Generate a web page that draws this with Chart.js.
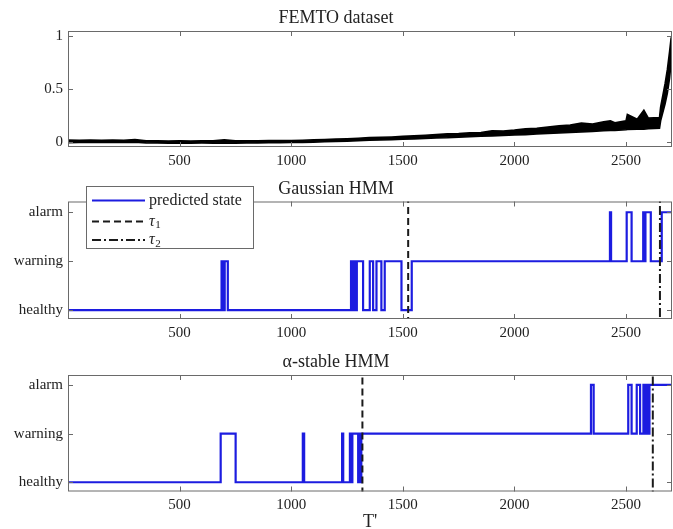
<!DOCTYPE html>
<html>
<head>
<meta charset="utf-8">
<script src="https://cdn.jsdelivr.net/npm/chart.js@4.4.0/dist/chart.umd.min.js"></script>
<style>
html, body { margin: 0; padding: 0; background: #fff; width: 673px; height: 529px; overflow: hidden; }
canvas { position: absolute; left: 0; }
</style>
</head>
<body>
<canvas id="femto" width="673" height="175" style="top:0px"></canvas>
<canvas id="gauss" width="673" height="175" style="top:165px"></canvas>
<canvas id="alpha" width="673" height="193" style="top:340px"></canvas>
<script>
// x axis
var xMax = 2706;
var ticksX = [500, 1000, 1500, 2000, 2500];
var stateLabels = ['healthy', 'warning', 'alarm'];

// FEMTO signal, read as a lower / upper envelope of the noisy trace
var femtoT = [0, 50, 100, 150, 200, 250, 300, 350, 400, 450, 500, 550, 600, 650, 700, 750, 800, 850, 900, 950,
  1000, 1050, 1100, 1150, 1200, 1250, 1300, 1350, 1400, 1450, 1500, 1550, 1600, 1650, 1700, 1750, 1800, 1850, 1900, 1950,
  2000, 2050, 2100, 2150, 2200, 2250, 2300, 2350, 2400, 2430, 2450, 2500, 2506, 2550, 2580, 2600, 2650, 2655, 2665, 2675, 2685, 2695, 2702, 2706];
var femtoLow = [-0.006, -0.004, -0.003, -0.004, -0.003, -0.004, -0.002, -0.008, -0.009, -0.010, -0.010, -0.010, -0.009, -0.010, -0.008, -0.010, -0.009, -0.008, -0.007, -0.006,
  -0.005, -0.003, -0.001, 0.002, 0.005, 0.008, 0.012, 0.016, 0.019, 0.022, 0.026, 0.030, 0.034, 0.038, 0.040, 0.045, 0.049, 0.054, 0.058, 0.062,
  0.066, 0.070, 0.075, 0.080, 0.085, 0.090, 0.096, 0.100, 0.106, 0.108, 0.110, 0.115, 0.118, 0.120, 0.122, 0.125, 0.130, 0.200, 0.280, 0.360, 0.460, 0.600, 0.750, 0.800];
var femtoHigh = [0.018, 0.016, 0.018, 0.017, 0.018, 0.016, 0.024, 0.012, 0.011, 0.010, 0.011, 0.010, 0.011, 0.012, 0.022, 0.011, 0.012, 0.012, 0.013, 0.014,
  0.015, 0.017, 0.020, 0.023, 0.027, 0.031, 0.036, 0.042, 0.045, 0.048, 0.053, 0.058, 0.064, 0.070, 0.078, 0.079, 0.088, 0.090, 0.106, 0.104,
  0.112, 0.124, 0.130, 0.142, 0.152, 0.160, 0.178, 0.170, 0.190, 0.200, 0.182, 0.200, 0.260, 0.215, 0.300, 0.225, 0.230, 0.330, 0.440, 0.550, 0.680, 0.850, 0.980, 1.000];

// Gaussian HMM predicted state (change points)
var gaussT = [0, 688, 697, 702, 716, 1268, 1276, 1281, 1290, 1294, 1322, 1352, 1367, 1382, 1404, 1419, 1494, 1540,
  2428, 2433, 2503, 2525, 2577, 2583, 2587, 2611, 2660, 2706];
var gaussState = [0, 1, 0, 1, 0, 1, 0, 1, 0, 1, 0, 1, 0, 1, 0, 1, 0, 1,
  2, 1, 2, 1, 2, 1, 2, 1, 2, 2];
var gaussTau = [1524, 2652];

// alpha-stable HMM predicted state (change points)
var alphaT = [0, 684, 751, 1052, 1058, 1228, 1233, 1263, 1270, 1274, 1300, 1305, 1310, 1314,
  2343, 2355, 2510, 2525, 2548, 2563, 2578, 2585, 2590, 2596, 2605, 2706];
var alphaState = [0, 1, 0, 1, 0, 1, 0, 1, 0, 1, 0, 1, 0, 1,
  2, 1, 2, 1, 2, 1, 2, 1, 2, 1, 2, 2];
var alphaTau = [1319, 2620];

var legendLabels = ['predicted state', '\u03c4', '\u03c4'];
var legendSubs = ['', '1', '2'];

var serif = "'Liberation Serif', 'DejaVu Serif', serif";
var textColor = '#222';
var boxColor = '#6a6a6a';
var blue = '#1c1ce0';
var tau1Dash = [7, 4];
var tau2Dash = [9, 3, 2, 3];

function pts(xs, ys) {
  return xs.map(function (x, i) { return { x: x, y: ys[i] }; });
}

function tauLine(x, dash) {
  return {
    data: [{ x: x, y: -5 }, { x: x, y: 5 }],
    borderColor: '#1a1a1a', borderWidth: 2, borderDash: dash, pointRadius: 0
  };
}

var framePlugin = {
  id: 'frame',
  afterDatasetsDraw: function (chart) {
    var ctx = chart.ctx, a = chart.chartArea, sx = chart.scales.x, sy = chart.scales.y;
    ctx.save();
    ctx.strokeStyle = boxColor;
    ctx.lineWidth = 1;
    ctx.setLineDash([]);
    ctx.strokeRect(a.left + 0.5, a.top + 0.5, a.right - a.left - 1, a.bottom - a.top - 1);
    ctx.beginPath();
    sx.ticks.forEach(function (t) {
      var px = Math.round(sx.getPixelForValue(t.value)) + 0.5;
      ctx.moveTo(px, a.bottom); ctx.lineTo(px, a.bottom - 5);
      ctx.moveTo(px, a.top); ctx.lineTo(px, a.top + 5);
    });
    sy.ticks.forEach(function (t) {
      var py = Math.round(sy.getPixelForValue(t.value)) + 0.5;
      ctx.moveTo(a.left, py); ctx.lineTo(a.left + 5, py);
      ctx.moveTo(a.right, py); ctx.lineTo(a.right - 5, py);
    });
    ctx.stroke();
    ctx.restore();
  }
};

var legendPlugin = {
  id: 'stateLegend',
  afterDraw: function (chart) {
    var ctx = chart.ctx;
    var rows = [35.5, 56.5, 75];
    var styles = [
      { color: blue, dash: [] },
      { color: '#1a1a1a', dash: tau1Dash },
      { color: '#1a1a1a', dash: tau2Dash }
    ];
    ctx.save();
    ctx.fillStyle = '#fff';
    ctx.fillRect(86.5, 21.5, 167, 62);
    ctx.strokeStyle = boxColor;
    ctx.lineWidth = 1;
    ctx.strokeRect(86.5, 21.5, 167, 62);
    ctx.textBaseline = 'middle';
    legendLabels.forEach(function (lab, i) {
      ctx.beginPath();
      ctx.setLineDash(styles[i].dash);
      ctx.strokeStyle = styles[i].color;
      ctx.lineWidth = 2;
      ctx.moveTo(92, rows[i]);
      ctx.lineTo(145, rows[i]);
      ctx.stroke();
      ctx.fillStyle = textColor;
      if (legendSubs[i]) {
        ctx.font = 'italic 16px ' + serif;
        ctx.fillText(lab, 149, rows[i]);
        var w = ctx.measureText(lab).width;
        ctx.font = '11px ' + serif;
        ctx.fillText(legendSubs[i], 149 + w + 0.5, rows[i] + 4);
      } else {
        ctx.font = '16px ' + serif;
        ctx.fillText(lab, 149, rows[i]);
      }
    });
    ctx.restore();
  }
};

function xAxis(height, title) {
  return {
    type: 'linear', min: 0, max: xMax,
    afterBuildTicks: function (s) { s.ticks = ticksX.map(function (v) { return { value: v }; }); },
    afterFit: function (s) { s.height = height; },
    grid: { display: false, drawTicks: false },
    border: { display: false },
    ticks: { font: { family: serif, size: 15 }, color: textColor, padding: 5, maxRotation: 0, autoSkip: false,
      callback: function (v) { return String(v); } },
    title: title ? { display: true, text: title, font: { family: serif, size: 18 }, color: textColor, padding: { top: 0, bottom: 0 } } : { display: false }
  };
}

function yAxis(min, max, tickVals, labelFn) {
  return {
    type: 'linear', min: min, max: max,
    afterBuildTicks: function (s) { s.ticks = tickVals.map(function (v) { return { value: v }; }); },
    afterFit: function (s) { s.width = 68; },
    grid: { display: false, drawTicks: false },
    border: { display: false },
    ticks: { font: { family: serif, size: 15 }, color: textColor, padding: 5, autoSkip: false, callback: labelFn }
  };
}

function baseOptions(titleText, padTop, xa, ya) {
  return {
    responsive: false,
    animation: false,
    devicePixelRatio: 1,
    layout: { padding: { left: 0, right: 1, top: 0, bottom: 0 } },
    plugins: {
      legend: { display: false },
      tooltip: { enabled: false },
      title: { display: true, text: titleText, font: { family: serif, size: 18, weight: 'normal' }, color: textColor, padding: { top: padTop, bottom: 1.7 } }
    },
    scales: { x: xa, y: ya }
  };
}

new Chart(document.getElementById('femto'), {
  type: 'line',
  data: {
    datasets: [
      { data: pts(femtoT, femtoHigh), borderColor: '#000', backgroundColor: '#000', borderWidth: 1.6, pointRadius: 0, fill: '+1' },
      { data: pts(femtoT, femtoLow), borderColor: '#000', borderWidth: 1.6, pointRadius: 0, fill: false }
    ]
  },
  options: baseOptions('FEMTO dataset', 7.7, xAxis(28), yAxis(-0.047, 1.047, [0, 0.5, 1], function (v) { return String(v); })),
  plugins: [framePlugin]
});

function stateChart(id, titleText, padTop, xa, ts, states, taus, yMin, yMax, extra) {
  return new Chart(document.getElementById(id), {
    type: 'line',
    data: {
      datasets: [
        tauLine(taus[0], tau1Dash),
        tauLine(taus[1], tau2Dash),
        { data: pts(ts, states), borderColor: blue, borderWidth: 2.2, pointRadius: 0, stepped: true, fill: false }
      ]
    },
    options: baseOptions(titleText, padTop, xa, yAxis(yMin, yMax, [0, 1, 2], function (v) { return stateLabels[v]; })),
    plugins: [framePlugin].concat(extra)
  });
}

stateChart('gauss', 'Gaussian HMM', 13.2, xAxis(21), gaussT, gaussState, gaussTau, -0.18, 2.22, [legendPlugin]);
stateChart('alpha', '\u03b1-stable HMM', 11.7, xAxis(41.5, "T'"), alphaT, alphaState, alphaTau, -0.19, 2.205, []);
</script>
</body>
</html>
